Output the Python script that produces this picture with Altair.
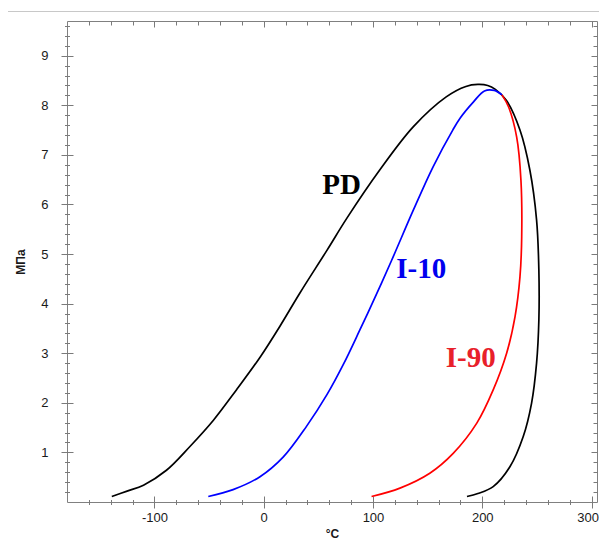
import altair as alt
import pandas as pd

# ---- data (T in °C, P in MPa) ----
pd_T = [-139, -125, -110, -89, -67.5, -46, -25, -3, 15, 33, 58, 76, 106, 137, 167, 185, 196, 205, 212, 222, 234.5, 243.6, 249.7, 251.8, 251.8, 249.7, 245.1, 237.5, 225.3, 210, 196, 186]
pd_P = [0.11, 0.22, 0.34, 0.64, 1.12, 1.65, 2.26, 2.93, 3.55, 4.21, 5.08, 5.72, 6.69, 7.57, 8.17, 8.38, 8.42, 8.40, 8.32, 8.10, 7.50, 6.69, 5.69, 4.68, 3.67, 2.80, 1.99, 1.32, 0.71, 0.31, 0.17, 0.11]

i10_T = [-50.7, -28, -3.4, 18, 39, 58, 73, 88, 103, 117, 137, 155, 173, 180, 192, 202, 211, 218]
i10_P = [0.11, 0.25, 0.51, 0.91, 1.52, 2.17, 2.78, 3.47, 4.18, 4.87, 5.89, 6.76, 7.50, 7.75, 8.07, 8.29, 8.30, 8.21]

i90_T = [218, 224, 231.5, 235.4, 236.1, 234.5, 230, 222.3, 210, 195, 173.4, 152, 124.7, 98.7]
i90_P = [8.21, 7.97, 7.36, 6.49, 5.35, 4.54, 3.74, 3.0, 2.26, 1.59, 0.98, 0.58, 0.28, 0.11]

series_names = ["PD", "I-10", "I-90"]
series_colors = ["#000000", "#0000ff", "#ff0000"]

label_text = ["PD", "I-10", "I-90"]
label_T = [71.3, 144.2, 189.5]
label_P = [6.22, 4.51, 2.73]
label_colors = ["#000000", "#0000ee", "#e8202a"]

x_major = [-100, 0, 100, 200, 300]
x_minor = [-160, -140, -120, -80, -60, -40, -20, 20, 40, 60, 80, 120, 140, 160, 180, 220, 240, 260, 280]
y_major = [1, 2, 3, 4, 5, 6, 7, 8, 9]
y_minor = [round(i * 0.2, 1) for i in range(1, 49) if i % 5 != 0]

x_domain = [-180, 305]
y_domain = [0, 9.7]

# ---- tables ----
rows = []
for name, Ts, Ps in [("PD", pd_T, pd_P), ("I-10", i10_T, i10_P), ("I-90", i90_T, i90_P)]:
    for k, (t, p) in enumerate(zip(Ts, Ps)):
        rows.append({"series": name, "T": t, "P": p, "idx": k})
df = pd.DataFrame(rows)
lab_df = pd.DataFrame({"text": label_text, "T": label_T, "P": label_P, "color": label_colors})

xs = alt.Scale(domain=x_domain, nice=False, zero=False)
ys = alt.Scale(domain=y_domain, nice=False, zero=False)

TICK = "#7a7a7a"

def ax(orient, values, size, offset, labels=False, **kw):
    return alt.Axis(orient=orient, values=values, tickSize=size, offset=offset,
                    labels=labels, domain=False, grid=False, tickColor=TICK,
                    tickWidth=1, **kw)

lines = alt.Chart(df).mark_line(strokeWidth=1.7, interpolate="catmull-rom").encode(
    x=alt.X("T:Q", scale=xs,
            axis=ax("bottom", x_major, 12, -6, labels=True, labelPadding=3,
                    labelExpr="datum.value < 0 ? '-' + abs(datum.value) : '' + datum.value",
                    labelOffset={"condition": {"test": "datum.value === 300", "value": -4}, "value": 0},
                    title="°C", titlePadding=4)),
    y=alt.Y("P:Q", scale=ys,
            axis=ax("left", y_major, 12, -6, labels=True, labelPadding=13,
                    title="МПа", titlePadding=13)),
    color=alt.Color("series:N", scale=alt.Scale(domain=series_names, range=series_colors), legend=None),
    order=alt.Order("idx:Q"),
)

minor_bl = alt.Chart(df).mark_point(opacity=0).encode(
    x=alt.X("T:Q", scale=xs, axis=ax("bottom", x_minor, 5, -2.5, title=None)),
    y=alt.Y("P:Q", scale=ys, axis=ax("left", y_minor, 5, -2.5, title=None)),
)
major_tr = alt.Chart(df).mark_point(opacity=0).encode(
    x=alt.X("T:Q", scale=xs, axis=ax("top", x_major, 6, -6, title=None)),
    y=alt.Y("P:Q", scale=ys, axis=ax("right", y_major, 6, -6, title=None)),
)
minor_tr = alt.Chart(df).mark_point(opacity=0).encode(
    x=alt.X("T:Q", scale=xs, axis=ax("top", x_minor, 4, -4, title=None)),
    y=alt.Y("P:Q", scale=ys, axis=ax("right", y_minor, 4, -4, title=None)),
)

labels = alt.Chart(lab_df).mark_text(font="Liberation Serif", fontWeight="bold", fontSize=29,
                                     align="center", baseline="alphabetic").encode(
    x=alt.X("T:Q", scale=xs, axis=None),
    y=alt.Y("P:Q", scale=ys, axis=None),
    text="text:N",
    color=alt.Color("color:N", scale=None),
)

top_rule = alt.Chart(lab_df).mark_rule(color="#c8c8c8", strokeWidth=1).encode(
    x=alt.value(-70), x2=alt.value(610), y=alt.value(-9.5)
)

chart = alt.layer(top_rule, minor_bl, major_tr, minor_tr, lines, labels).resolve_axis(
    x="independent", y="independent"
).properties(
    width=530, height=481,
    autosize=alt.AutoSizeParams(type="none"),
    padding={"left": 59, "top": 13, "right": 2, "bottom": 39},
).configure_view(
    stroke="#808080", strokeWidth=1
).configure_axis(
    labelFont="Liberation Sans", labelFontSize=13, labelColor="#1a1a1a",
    titleFont="Liberation Sans", titleFontSize=12, titleFontWeight="bold", titleColor="#1a1a1a",
)

chart.save("out.html", embed_options={"renderer": "svg", "actions": False})
